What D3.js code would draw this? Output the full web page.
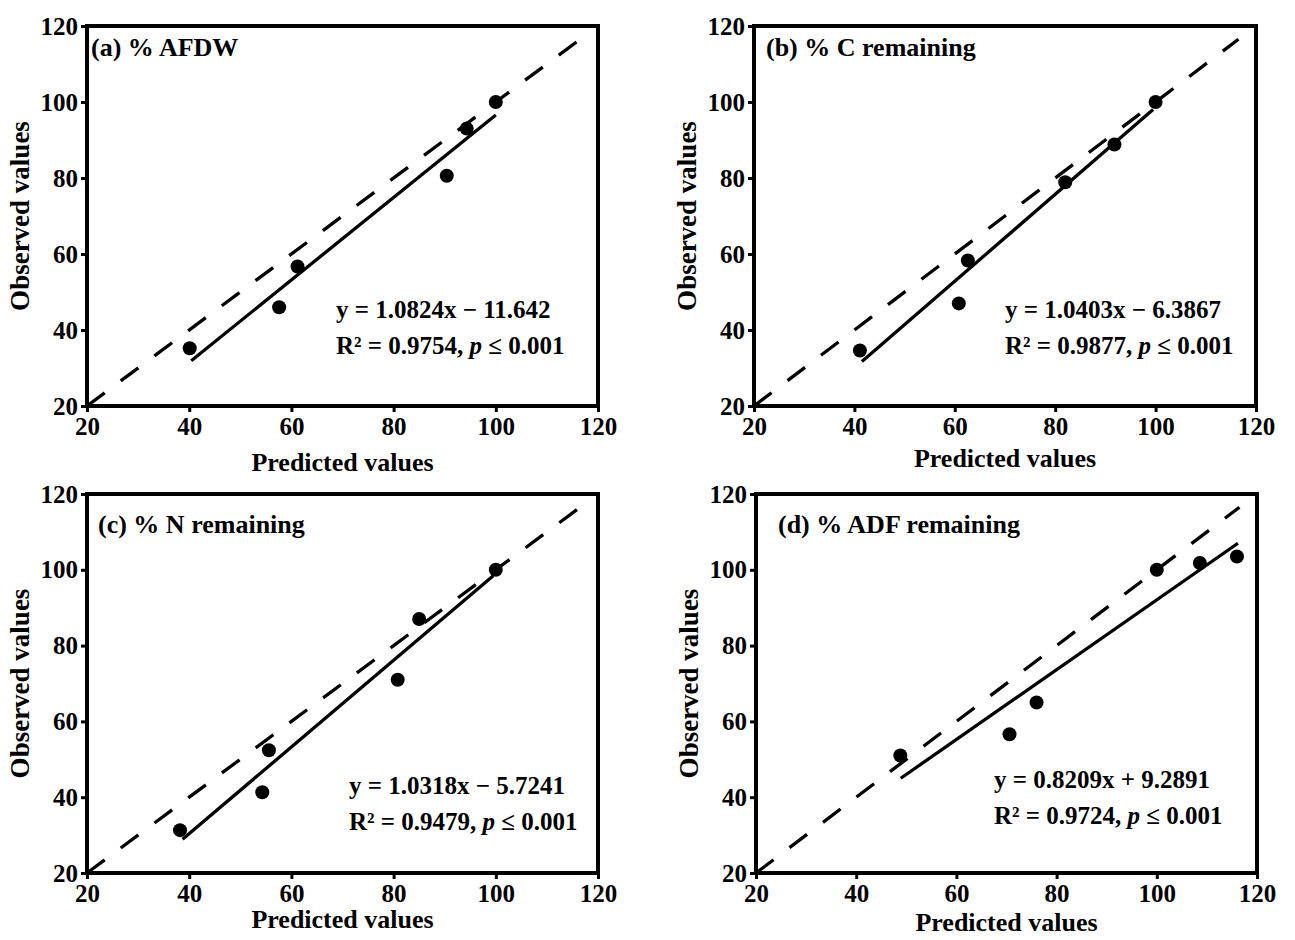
<!DOCTYPE html>
<html>
<head>
<meta charset="utf-8">
<script src="https://cdn.jsdelivr.net/npm/d3@7/dist/d3.min.js"></script>
<style>
body { margin: 0; background: #fff; }
svg text { font-family: "Liberation Serif", "Times New Roman", serif; font-weight: bold; fill: #000; }
</style>
</head>
<body>
<svg id="chart" width="1295" height="940"></svg>
<script>
// shared axis values
var tickValues = [20, 40, 60, 80, 100, 120];
var axisDomain = [20, 120];
var oneToOne = [20, 116.5];

// (a) % AFDW
var predA = [40.1, 57.6, 61.2, 90.4, 94.3, 100];
var obsA = [35.2, 46.0, 56.7, 80.6, 93.0, 100];
var fitA = [[40.4, 31.9], [100, 96.6]];

// (b) % C remaining
var predB = [41.1, 60.8, 62.6, 82.0, 91.8, 100];
var obsB = [34.6, 47.0, 58.3, 78.9, 88.8, 100];
var fitB = [[41.5, 31.7], [99.5, 98.0]];

// (c) % N remaining
var predC = [38.2, 54.3, 55.6, 80.8, 85.0, 100];
var obsC = [31.3, 41.3, 52.4, 71.0, 87.0, 100];
var fitC = [[38.7, 28.9], [99.5, 98.4]];

// (d) % ADF remaining
var predD = [48.8, 70.6, 76.0, 100, 108.6, 116.0];
var obsD = [51.0, 56.6, 65.0, 100, 101.8, 103.5];
var fitD = [[48.9, 45.0], [116.2, 107.0]];

var titles = ["(a) % AFDW", "(b) % C remaining", "(c) % N remaining", "(d) % ADF remaining"];
var equations = ["y = 1.0824x \u2212 11.642", "y = 1.0403x \u2212 6.3867", "y = 1.0318x \u2212 5.7241", "y = 0.8209x + 9.2891"];
var r2Values = ["0.9754", "0.9877", "0.9479", "0.9724"];
var xTitle = "Predicted values";
var yTitle = "Observed values";

var panels = [
	{pred: predA, obs: obsA, fit: fitA, left: 87, right: 598, top: 26, bottom: 406, eqX: 336, eqY: 318, titleX: 91, titleY: 56, xTitleY: 471},
	{pred: predB, obs: obsB, fit: fitB, left: 754, right: 1256, top: 26, bottom: 406, eqX: 1005, eqY: 318, titleX: 766, titleY: 56, xTitleY: 467},
	{pred: predC, obs: obsC, fit: fitC, left: 87, right: 598, top: 494, bottom: 873, eqX: 349, eqY: 794, titleX: 98, titleY: 533, xTitleY: 928},
	{pred: predD, obs: obsD, fit: fitD, left: 756, right: 1257, top: 494, bottom: 873, eqX: 994, eqY: 788, titleX: 778, titleY: 533, xTitleY: 931}
];

var svg = d3.select("#chart");

panels.forEach(function(p, i) {
	var x = d3.scaleLinear().domain(axisDomain).range([p.left, p.right]);
	var y = d3.scaleLinear().domain(axisDomain).range([p.bottom, p.top]);
	var g = svg.append("g");

	var xAxis = g.append("g")
		.attr("transform", "translate(0," + p.bottom + ")")
		.call(d3.axisBottom(x).tickValues(tickValues).tickSize(6).tickPadding(3));
	var yAxis = g.append("g")
		.attr("transform", "translate(" + p.left + ",0)")
		.call(d3.axisLeft(y).tickValues(tickValues).tickSize(6).tickPadding(3));
	[xAxis, yAxis].forEach(function(a) {
		a.select(".domain").remove();
		a.selectAll(".tick line").attr("stroke", "#000").attr("stroke-width", 3);
		a.selectAll(".tick text").style("font-size", "25px");
	});
	xAxis.selectAll(".tick text").attr("dy", "0.78em");

	// frame
	g.append("rect")
		.attr("x", p.left).attr("y", p.top)
		.attr("width", p.right - p.left).attr("height", p.bottom - p.top)
		.attr("fill", "none").attr("stroke", "#000").attr("stroke-width", 4);

	// 1:1 line
	g.append("line")
		.attr("x1", x(oneToOne[0])).attr("y1", y(oneToOne[0]))
		.attr("x2", x(oneToOne[1])).attr("y2", y(oneToOne[1]))
		.attr("stroke", "#000").attr("stroke-width", 3.3)
		.attr("stroke-dasharray", "22,20");

	// fitted line
	g.append("line")
		.attr("x1", x(p.fit[0][0])).attr("y1", y(p.fit[0][1]))
		.attr("x2", x(p.fit[1][0])).attr("y2", y(p.fit[1][1]))
		.attr("stroke", "#000").attr("stroke-width", 3.3);

	g.selectAll("circle")
		.data(p.pred.map(function(v, k) { return [v, p.obs[k]]; }))
		.enter().append("circle")
		.attr("cx", function(d) { return x(d[0]); })
		.attr("cy", function(d) { return y(d[1]); })
		.attr("r", 7)
		.attr("fill", "#000");

	g.append("text")
		.attr("x", p.titleX).attr("y", p.titleY)
		.style("font-size", "26px")
		.text(titles[i]);

	g.append("text")
		.attr("x", p.eqX).attr("y", p.eqY)
		.style("font-size", "25px")
		.text(equations[i]);

	var r2 = g.append("text")
		.attr("x", p.eqX).attr("y", p.eqY + 36)
		.style("font-size", "25px");
	r2.append("tspan").text("R\u00b2 = " + r2Values[i] + ", ");
	r2.append("tspan").style("font-style", "italic").text("p");
	r2.append("tspan").text(" \u2264 0.001");

	g.append("text")
		.attr("x", (p.left + p.right) / 2).attr("y", p.xTitleY)
		.attr("text-anchor", "middle")
		.style("font-size", "26px")
		.text(xTitle);

	g.append("text")
		.attr("transform", "translate(" + (p.left - 58) + "," + ((p.top + p.bottom) / 2) + ") rotate(-90)")
		.attr("text-anchor", "middle")
		.style("font-size", "27px")
		.text(yTitle);
});
</script>
</body>
</html>
